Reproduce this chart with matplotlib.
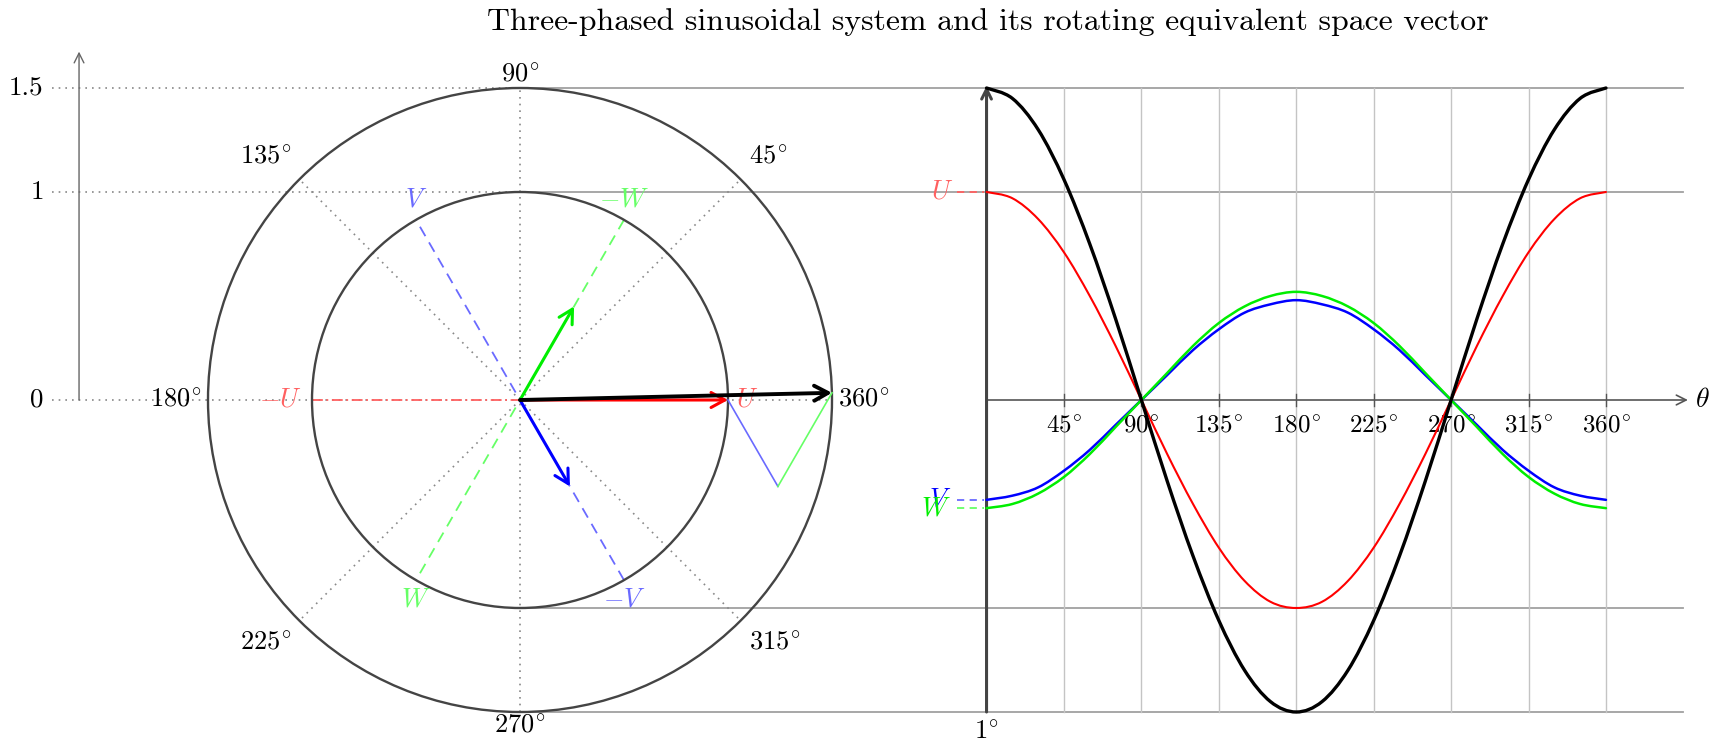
import numpy as np
import matplotlib
matplotlib.use("Agg")
import matplotlib.pyplot as plt
from matplotlib.patches import Circle, FancyArrowPatch, PathPatch
from matplotlib.path import Path

plt.rcParams['font.family'] = 'serif'
plt.rcParams['font.serif'] = ['cmr10']
plt.rcParams['mathtext.fontset'] = 'cm'
plt.rcParams['axes.unicode_minus'] = False

# phase angle samples (deg) and the three phase signals plus the resulting space vector
theta = [0, 15, 30, 45, 60, 75, 90, 105, 120, 135, 150, 165, 180,
         195, 210, 225, 240, 255, 270, 285, 300, 315, 330, 345, 360]
u_vals = [1.00, 0.97, 0.87, 0.71, 0.50, 0.26, 0.00, -0.26, -0.50, -0.71, -0.87, -0.97, -1.00,
          -0.97, -0.87, -0.71, -0.50, -0.26, 0.00, 0.26, 0.50, 0.71, 0.87, 0.97, 1.00]
v_vals = [-0.48, -0.46, -0.42, -0.34, -0.24, -0.12, 0.00, 0.12, 0.24, 0.34, 0.42, 0.46, 0.48,
          0.46, 0.42, 0.34, 0.24, 0.12, 0.00, -0.12, -0.24, -0.34, -0.42, -0.46, -0.48]
w_vals = [-0.52, -0.50, -0.45, -0.37, -0.26, -0.13, 0.00, 0.13, 0.26, 0.37, 0.45, 0.50, 0.52,
          0.50, 0.45, 0.37, 0.26, 0.13, 0.00, -0.13, -0.26, -0.37, -0.45, -0.50, -0.52]
s_vals = [1.50, 1.45, 1.30, 1.06, 0.75, 0.39, 0.00, -0.39, -0.75, -1.06, -1.30, -1.45, -1.50,
          -1.45, -1.30, -1.06, -0.75, -0.39, 0.00, 0.39, 0.75, 1.06, 1.30, 1.45, 1.50]

phase_names = ['U', 'V', 'W']
phase_axes = [0, 120, 240]          # direction of each winding axis
phase_colors = ['#ff0000', '#0000ff', '#00ee00']
phase_light = ['#ff6060', '#6a6aff', '#66ff66']
radii = [1.0, 1.5]
angle_ticks = [0, 45, 90, 135, 180, 225, 270, 315]
deg_ticks = [45, 90, 135, 180, 225, 270, 315, 360]
y_ticks = [0, 1, 1.5]
y_tick_labels = ['0', '1', '1.5']

PX = 208.0
W, H = 1713, 742
fig = plt.figure(figsize=(W / 100, H / 100), dpi=100)
ax = fig.add_axes([0, 0, 1, 1])
ax.set_xlim(-520 / PX, (W - 520) / PX)
ax.set_ylim(-(H - 400) / PX, 400 / PX)
ax.axis('off')

FS = 19
dotted = dict(color='#888888', lw=1.2, ls=(0, (1, 3)))


def deg(d):
    return r'$%d^{\!\circ}$' % d


def smooth_path(xs, ys):
    # cardinal spline through the samples, written as cubic Bezier pieces
    p = np.column_stack([xs, ys])
    p = np.vstack([p[0], p, p[-1]])
    verts = [p[1]]
    codes = [Path.MOVETO]
    for i in range(1, len(p) - 2):
        c1 = p[i] + (p[i + 1] - p[i - 1]) / 6.0
        c2 = p[i + 1] - (p[i + 2] - p[i]) / 6.0
        verts += [c1, c2, p[i + 1]]
        codes += [Path.CURVE4] * 3
    return Path(verts, codes)


def arrow(p0, p1, color, lw, style='->,head_length=0.5,head_width=0.25', scale=14, z=3):
    ax.add_patch(FancyArrowPatch(p0, p1, arrowstyle=style, mutation_scale=scale, color=color,
                                 lw=lw, shrinkA=0, shrinkB=0, zorder=z))


# ---- left: phasor diagram ----
for r in radii:
    ax.add_patch(Circle((0, 0), r, fill=False, ec='#444444', lw=1.7, zorder=3))

for a in [45, 135, 225, 315]:
    c, s = np.cos(np.radians(a)), np.sin(np.radians(a))
    ax.plot([0, 1.5 * c], [0, 1.5 * s], **dotted)
ax.plot([0, 0], [-1.5, 1.5], **dotted)

# reference scale on the far left
x_axis_left = -2.12
arrow((x_axis_left, 0), (x_axis_left, 1.675), '#666666', 1.0)
for yv, lab in zip(y_ticks, y_tick_labels):
    ax.text(-2.29, yv, lab, ha='right', va='center', fontsize=FS + 0.5)
    x_end = 1.5 if yv == 0 else 0
    ax.plot([-2.25, x_end], [yv, yv], **dotted)

for a in angle_ticks:
    c, s = np.cos(np.radians(a)), np.sin(np.radians(a))
    lab = deg(360 if a == 0 else a)
    if a in (0, 180):
        ax.text(1.5 * c + 0.03 * c, 0, lab, ha='left' if a == 0 else 'right', va='center', fontsize=FS)
    elif a in (90, 270):
        ax.text(0, 1.5 * s + 0.005 * s, lab, ha='center', va='bottom' if a == 90 else 'top', fontsize=FS)
    else:
        ax.text(1.5 * c + 0.04 * np.sign(c), 1.5 * s + 0.05 * np.sign(s), lab,
                ha='left' if c > 0 else 'right', va='bottom' if s > 0 else 'top', fontsize=FS)

# horizontal guides linking the circle to the time plot
for yv in [1.5, 1.0, -1.0, -1.5]:
    ax.plot([0, 5.59], [yv, yv], color='#a0a0a0', lw=1.3, zorder=1)

# winding axes
ax.plot([-1, 1], [0, 0], color=phase_light[0], lw=1.3, ls=(0, (6, 2, 1, 2)), zorder=2)
for k in (1, 2):
    a = np.radians(phase_axes[k])
    ax.plot([-np.cos(a), np.cos(a)], [-np.sin(a), np.sin(a)], color=phase_light[k], lw=1.3,
            ls=(0, (6, 4)), zorder=2)

ax.text(-1.15, 0, r'$-U$', color=phase_light[0], ha='center', va='center', fontsize=FS)
ax.text(1.04, 0, r'$U$', color=phase_light[0], ha='left', va='center', fontsize=FS)
for k, ang in ((1, 120), (2, 240)):
    a = np.radians(ang)
    ex, ey = np.cos(a), np.sin(a)
    up = 0.095 * np.sign(ey)
    ax.text(ex, ey + up, '$%s$' % phase_names[k], color=phase_light[k],
            ha='center', va='center', fontsize=FS)
    ax.text(-ex, -ey - up, '$-%s$' % phase_names[k], color=phase_light[k],
            ha='center', va='center', fontsize=FS)

# instantaneous phase vectors at theta = 0 and their sum
vals0 = [u_vals[0], v_vals[0], w_vals[0]]
vecs = [(v * np.cos(np.radians(a)), v * np.sin(np.radians(a))) for v, a in zip(vals0, phase_axes)]
vec_style = '->,head_length=0.55,head_width=0.3'
for (vx, vy), col in zip(vecs, phase_colors):
    arrow((0, 0), (vx, vy), col, 2.2, vec_style, 18, 5)
# tip-to-tail chain U + V + W
px, py = vecs[0]
for k in (1, 2):
    nx, ny = px + vecs[k][0], py + vecs[k][1]
    ax.plot([px, nx], [py, ny], color=phase_light[k], lw=1.2, zorder=4)
    px, py = nx, ny
arrow((0, 0), (px, py), 'black', 2.8, vec_style, 18, 6)

# ---- right: time plot ----
x0 = 2.243
sx = 2.978 / 360.0
tx = [x0 + t * sx for t in theta]

for d in deg_ticks:
    xd = x0 + d * sx
    ax.plot([xd, xd], [-1.5, 1.5], color='#c4c4c4', lw=1.0, zorder=1)
    ax.plot([xd, xd], [-0.03, 0.03], color='#555555', lw=1.0, zorder=2)
    ax.text(xd, -0.155, deg(d), ha='center', va='baseline', fontsize=FS - 1)

arrow((x0, 0), (5.615, 0), '#555555', 1.2, z=2)
ax.text(5.65, 0, r'$\theta$', ha='left', va='center', fontsize=FS + 1)
arrow((x0, -1.5), (x0, 1.51), '#444444', 2.2, z=3)
ax.text(x0, -1.54, deg(1), ha='center', va='top', fontsize=FS)

for vals, col, lw, z in [(u_vals, phase_colors[0], 1.5, 4), (v_vals, phase_colors[1], 1.8, 4),
                         (w_vals, phase_colors[2], 1.8, 4), (s_vals, 'black', 2.4, 5)]:
    ax.add_patch(PathPatch(smooth_path(tx, vals), fill=False, ec=col, lw=lw, zorder=z,
                           capstyle='round', joinstyle='round'))

for name, y0, col, lx in zip(phase_names, vals0, phase_light, [2.03, 2.02, 2.00]):
    ax.plot([2.10, x0 - 0.01], [y0, y0], color=col, lw=1.3, ls=(0, (4, 3)), zorder=2)
    ax.text(lx, y0, '$%s$' % name, color=phase_colors[phase_names.index(name)] if name != 'U' else col,
            ha='center', va='center', fontsize=FS)

ax.text(2.25, 1.817, 'Three-phased sinusoidal system and its rotating equivalent space vector',
        ha='center', va='center', fontsize=22.9)

fig.savefig('out.png', dpi=100)
